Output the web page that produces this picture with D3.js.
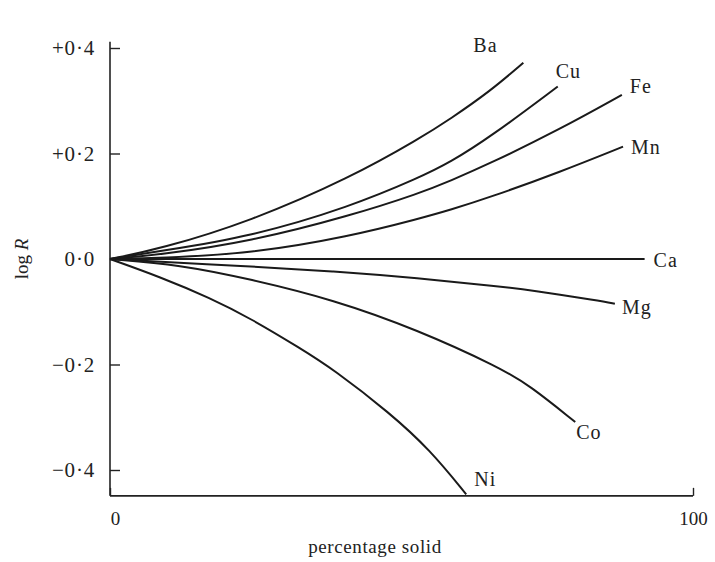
<!DOCTYPE html>
<html>
<head>
<meta charset="utf-8">
<script src="https://cdn.jsdelivr.net/npm/d3@7"></script>
<style>
  body { margin: 0; background: #fff; }
  text { font-family: "Liberation Serif", "DejaVu Serif", serif; fill: #222; }
</style>
</head>
<body>
<div id="chart-area"></div>
<script>
// data: percentage solid vs log R
const metals = ["Ba", "Cu", "Fe", "Mn", "Ca", "Mg", "Co", "Ni"];

const baPct = [0, 8.6, 24, 41.2, 53.2, 58.3, 65.2, 70.9];
const baLogR = [0, 0.019, 0.071, 0.154, 0.229, 0.265, 0.318, 0.372];

const cuPct = [0, 8.6, 24, 41.2, 53.2, 58.3, 65.2, 76.8];
const cuLogR = [0, 0.015, 0.042, 0.099, 0.155, 0.183, 0.231, 0.327];

const fePct = [0, 8.6, 24, 41.2, 53.2, 58.3, 65.2, 77.2, 87.8];
const feLogR = [0, 0.008, 0.033, 0.082, 0.125, 0.148, 0.181, 0.246, 0.311];

const mnPct = [0, 8.6, 24, 41.2, 53.2, 58.3, 65.2, 77.2, 88.0];
const mnLogR = [0, 0.002, 0.010, 0.043, 0.077, 0.093, 0.117, 0.165, 0.213];

const caPct = [0, 91.7];
const caLogR = [0, 0];

const mgPct = [0, 24, 38.3, 52.7, 66.9, 72, 84, 86.6];
const mgLogR = [0, -0.014, -0.023, -0.036, -0.052, -0.059, -0.079, -0.085];

const coPct = [0, 12, 24, 38.3, 52.7, 66.9, 72, 79.8];
const coLogR = [0, -0.011, -0.038, -0.077, -0.134, -0.206, -0.240, -0.309];

const niPct = [0, 8.6, 17.2, 24, 32.6, 38.3, 48, 54.9, 61.1];
const niLogR = [0, -0.034, -0.074, -0.112, -0.169, -0.209, -0.292, -0.362, -0.446];

const yTicks = [0.4, 0.2, 0, -0.2, -0.4];
const xTicks = [0, 100];

const seriesPct = [baPct, cuPct, fePct, mnPct, caPct, mgPct, coPct, niPct];
const seriesLogR = [baLogR, cuLogR, feLogR, mnLogR, caLogR, mgLogR, coLogR, niLogR];

// where each name sits relative to the end of its curve
const labelOffset = {
  Ba: [-50, -11], Cu: [-2, -9], Fe: [8, -2], Mn: [8, 7],
  Ca: [9, 8], Mg: [7, 10], Co: [1, 17], Ni: [8, -8]
};

const width = 715, height = 562;

const svg = d3.select("#chart-area")
  .append("svg")
  .attr("width", width)
  .attr("height", height);

const x = d3.scaleLinear().domain([0, 100]).range([110, 693]);
const y = d3.scaleLinear().domain([-0.4, 0.4]).range([470, 48]);

const axisTop = 0.412, axisBottom = -0.449;

// axis lines
svg.append("line")
  .attr("x1", x(0)).attr("x2", x(0))
  .attr("y1", y(axisTop)).attr("y2", y(axisBottom))
  .attr("stroke", "#222").attr("stroke-width", 1.6);

svg.append("line")
  .attr("x1", x(0)).attr("x2", x(100))
  .attr("y1", y(axisBottom)).attr("y2", y(axisBottom))
  .attr("stroke", "#222").attr("stroke-width", 1.6);

// y axis ticks point inward
const fmt = d => {
  const s = Math.abs(d).toFixed(1).replace(".", "\u00b7");
  if (d > 0) return "+" + s;
  if (d < 0) return "\u2212" + s;
  return s;
};

const yAxis = svg.append("g")
  .attr("transform", "translate(" + x(0) + ",0)")
  .call(d3.axisLeft(y).tickValues(yTicks).tickSizeInner(-10).tickSizeOuter(0).tickPadding(15).tickFormat(fmt));
yAxis.select(".domain").remove();
yAxis.selectAll(".tick line").attr("stroke", "#222").attr("stroke-width", 1.4);
yAxis.selectAll(".tick text")
  .attr("font-size", "21px")
  .attr("letter-spacing", "0.8px")
  .style("font-family", "'Liberation Serif', serif")
  .attr("fill", "#222");

const xAxis = svg.append("g")
  .attr("transform", "translate(0," + y(axisBottom) + ")")
  .call(d3.axisBottom(x).tickValues(xTicks).tickSizeInner(-8).tickSizeOuter(0).tickPadding(16).tickFormat(d => d));
xAxis.select(".domain").remove();
xAxis.selectAll(".tick line").attr("stroke", "#222").attr("stroke-width", 1.4);
xAxis.selectAll(".tick text")
  .attr("font-size", "19px")
  .style("font-family", "'Liberation Serif', serif")
  .attr("fill", "#222");
xAxis.selectAll(".tick").filter(d => d === 0).select("text").attr("dx", 5);

// axis titles
svg.append("text")
  .attr("x", 375).attr("y", 553)
  .attr("text-anchor", "middle")
  .attr("font-size", "19px")
  .attr("letter-spacing", "0.6px")
  .text("percentage solid");

const yTitle = svg.append("text")
  .attr("transform", "translate(28," + y(0) + ") rotate(-90)")
  .attr("text-anchor", "middle")
  .attr("font-size", "19px");
yTitle.append("tspan").text("log ");
yTitle.append("tspan").attr("font-style", "italic").text("R");

// curves
const line = d3.line()
  .x(d => x(d[0]))
  .y(d => y(d[1]))
  .curve(d3.curveBasis);

metals.forEach((m, i) => {
  const pts = seriesPct[i].map((p, j) => [p, seriesLogR[i][j]]);
  svg.append("path")
    .datum(pts)
    .attr("d", line)
    .attr("fill", "none")
    .attr("stroke", "#1a1a1a")
    .attr("stroke-width", 2);

  const last = pts[pts.length - 1];
  svg.append("text")
    .attr("x", x(last[0]) + labelOffset[m][0])
    .attr("y", y(last[1]) + labelOffset[m][1])
    .attr("font-size", "20px")
    .attr("letter-spacing", "1px")
    .text(m);
});
</script>
</body>
</html>
